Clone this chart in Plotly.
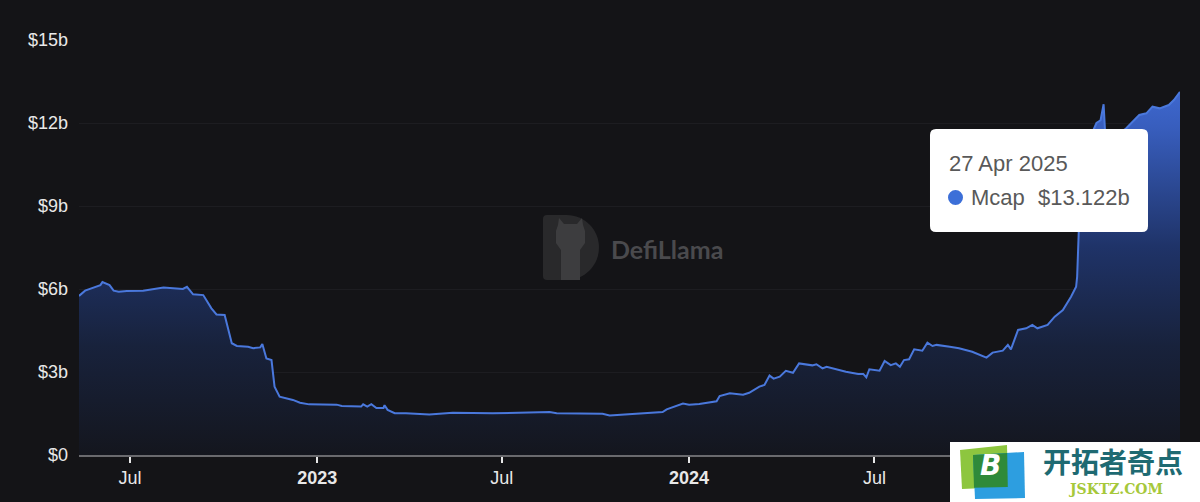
import plotly.graph_objects as go

# ---------------- data ----------------
dates = [
    "2022-05-12", "2022-05-18", "2022-06-02", "2022-06-04", "2022-06-11", "2022-06-15", "2022-06-20", "2022-06-28",
    "2022-07-14", "2022-08-03", "2022-08-22", "2022-08-26", "2022-09-01", "2022-09-11", "2022-09-19", "2022-09-24",
    "2022-10-02", "2022-10-09", "2022-10-14", "2022-10-25", "2022-10-30", "2022-11-06", "2022-11-08", "2022-11-12",
    "2022-11-17", "2022-11-20", "2022-11-25", "2022-12-08", "2022-12-15", "2022-12-24",
    "2023-01-20", "2023-01-25", "2023-02-13", "2023-02-15", "2023-02-19", "2023-02-23", "2023-02-28", "2023-03-07",
    "2023-03-08", "2023-03-11", "2023-03-18", "2023-03-29", "2023-04-21", "2023-05-14", "2023-06-22", "2023-07-12",
    "2023-08-17", "2023-08-24", "2023-10-08", "2023-10-15", "2023-11-07", "2023-12-06", "2023-12-10", "2023-12-26",
    "2024-01-01", "2024-01-11", "2024-01-28", "2024-01-31", "2024-02-10", "2024-02-23", "2024-02-29", "2024-03-10",
    "2024-03-15", "2024-03-20", "2024-03-24", "2024-03-30", "2024-04-05", "2024-04-12", "2024-04-18", "2024-05-01",
    "2024-05-05", "2024-05-11", "2024-05-15", "2024-06-03", "2024-06-15", "2024-06-20", "2024-06-23", "2024-06-26",
    "2024-07-06", "2024-07-11", "2024-07-17", "2024-07-22", "2024-07-26", "2024-07-30", "2024-08-04", "2024-08-09",
    "2024-08-17", "2024-08-22", "2024-08-27", "2024-08-31", "2024-09-13", "2024-09-22", "2024-10-05", "2024-10-19",
    "2024-10-25", "2024-11-04", "2024-11-09", "2024-11-12", "2024-11-19", "2024-11-27", "2024-12-03", "2024-12-08",
    "2024-12-18", "2024-12-25", "2025-01-02", "2025-01-10", "2025-01-15", "2025-01-16", "2025-01-19", "2025-01-22",
    "2025-01-28", "2025-02-01", "2025-02-04", "2025-02-08", "2025-02-11", "2025-02-13", "2025-02-21", "2025-03-05",
    "2025-03-18", "2025-03-25", "2025-03-31", "2025-04-07", "2025-04-16", "2025-04-21", "2025-04-27",
]
mcap_billions = [
    5.75, 5.94, 6.14, 6.25, 6.14, 5.94, 5.90, 5.93,
    5.94, 6.05, 6.00, 6.08, 5.81, 5.78, 5.30, 5.08,
    5.06, 4.04, 3.94, 3.91, 3.86, 3.89, 4.01, 3.49,
    3.43, 2.47, 2.11, 1.99, 1.89, 1.83,
    1.82, 1.77, 1.75, 1.83, 1.75, 1.84, 1.70, 1.70,
    1.80, 1.63, 1.51, 1.51, 1.46, 1.53, 1.51, 1.52,
    1.55, 1.51, 1.49, 1.43, 1.48, 1.55, 1.65, 1.86,
    1.82, 1.84, 1.94, 2.13, 2.23, 2.18, 2.25, 2.47,
    2.53, 2.87, 2.76, 2.83, 3.04, 2.97, 3.31, 3.24,
    3.28, 3.13, 3.19, 3.01, 2.93, 2.93, 2.81, 3.10,
    3.05, 3.40, 3.25, 3.31, 3.19, 3.43, 3.46, 3.82,
    3.77, 4.06, 3.94, 3.98, 3.91, 3.86, 3.73, 3.52,
    3.70, 3.77, 3.98, 3.82, 4.52, 4.58, 4.70, 4.58,
    4.70, 5.00, 5.24, 5.72, 6.08, 6.44, 9.50, 11.20,
    11.60, 11.75, 12.00, 12.10, 12.68, 11.30, 11.50, 11.80,
    12.29, 12.35, 12.59, 12.53, 12.65, 12.83, 13.122,
]

y_tickvals = [0, 3, 6, 9, 12, 15]
y_ticktext = ["$0", "$3b", "$6b", "$9b", "$12b", "$15b"]
# (the 2025 tick sits under the site logo in the reference, so it is not shown)
x_tickvals = ["2022-07-01", "2023-01-01", "2023-07-01", "2024-01-01", "2024-07-01"]
x_ticktext = ["Jul", "<b>2023</b>", "Jul", "<b>2024</b>", "Jul"]

series_name = "Mcap"
tooltip_date = "27 Apr 2025"
tooltip_value = "$13.122b"
watermark_text = "DefiLlama"
logo_cn = "开拓者奇点"
logo_en = "JSKTZ.COM"

# ---------------- layout geometry ----------------
W, H = 1200, 502
ML, MR, MT, MB = 79, 20, 40, 47
PW, PH = W - ML - MR, H - MT - MB

BG = "#141417"
LINE = "#4a78dc"
FONT = "Liberation Sans, Arial, sans-serif"


def px(x):
    return (x - ML) / PW


def py(y):
    return (H - MB - y) / PH


def path_from(cmds):
    """cmds: list of (letter, [(x,y),...]) in pixel coordinates -> paper path."""
    out = []
    for c, pts in cmds:
        s = c
        if pts:
            s += " " + " ".join(f"{px(x):.5f},{py(y):.5f}" for x, y in pts)
        out.append(s)
    return " ".join(out)


def rrect(x0, y0, x1, y1, r):
    return path_from([
        ("M", [(x0 + r, y0)]), ("L", [(x1 - r, y0)]), ("Q", [(x1, y0), (x1, y0 + r)]),
        ("L", [(x1, y1 - r)]), ("Q", [(x1, y1), (x1 - r, y1)]),
        ("L", [(x0 + r, y1)]), ("Q", [(x0, y1), (x0, y1 - r)]),
        ("L", [(x0, y0 + r)]), ("Q", [(x0, y0), (x0 + r, y0)]), ("Z", []),
    ])


def poly(points):
    cmds = [("M", [points[0]])] + [("L", [p]) for p in points[1:]] + [("Z", [])]
    return path_from(cmds)


fig = go.Figure()
fig.add_trace(go.Scatter(
    x=dates, y=mcap_billions, mode="lines", name=series_name,
    line=dict(color=LINE, width=2),
    fill="tozeroy",
    fillgradient=dict(
        type="vertical",
        start=0, stop=13.2,
        colorscale=[
            [0.0, "rgba(20,22,30,1)"],
            [0.3, "rgba(24,34,60,1)"],
            [0.57, "rgba(31,51,104,1)"],
            [0.9, "rgba(56,94,190,1)"],
            [1.0, "rgba(62,104,208,1)"],
        ],
    ),
    hoverinfo="skip",
    showlegend=False,
))

shapes = []
annotations = []

# --- DefiLlama watermark (centre) ---
k = 0.5523
cx, cy, r = 566.5, 247.5, 32.5
shapes.append(dict(
    type="path", xref="paper", yref="paper", layer="below",
    path=path_from([
        ("M", [(547, 215)]), ("L", [(cx, 215)]),
        ("C", [(cx + k * r, 215), (cx + r, cy - k * r), (cx + r, cy)]),
        ("C", [(cx + r, cy + k * r), (cx + k * r, 280), (cx, 280)]),
        ("L", [(547, 280)]), ("Q", [(543, 280), (543, 276)]),
        ("L", [(543, 219)]), ("Q", [(543, 215), (547, 215)]), ("Z", []),
    ]),
    fillcolor="#29292b", line=dict(width=0),
))
shapes.append(dict(
    type="path", xref="paper", yref="paper", layer="below",
    path=poly([(561, 280), (561, 250), (556, 243), (556, 231), (558, 225), (559, 218),
               (564, 224), (577, 224), (582, 218), (583, 225), (585, 231), (585, 243),
               (580, 250), (580, 280)]),
    fillcolor="#3d3d3f", line=dict(width=0),
))
annotations.append(dict(
    x=px(609), y=py(249), xref="paper", yref="paper", xanchor="left", yanchor="middle",
    text=f"<b>{watermark_text}</b>", showarrow=False,
    font=dict(family="Lato, " + FONT, size=25, color="#4a4a4d"),
))

# --- tooltip ---
shapes.append(dict(
    type="path", xref="paper", yref="paper", layer="above",
    path=rrect(930, 129, 1148, 232, 6),
    fillcolor="#ffffff", line=dict(width=0),
))
shapes.append(dict(
    type="circle", xref="paper", yref="paper", layer="above",
    x0=px(948), x1=px(963), y0=py(205), y1=py(190),
    fillcolor="#3c6fd8", line=dict(width=0),
))
annotations += [
    dict(x=px(947), y=py(163), xref="paper", yref="paper", xanchor="left", yanchor="middle",
         text=tooltip_date, showarrow=False, font=dict(family=FONT, size=22, color="#595959")),
    dict(x=px(969), y=py(197), xref="paper", yref="paper", xanchor="left", yanchor="middle",
         text=series_name, showarrow=False, font=dict(family=FONT, size=22, color="#595959")),
    dict(x=px(1036), y=py(197), xref="paper", yref="paper", xanchor="left", yanchor="middle",
         text=tooltip_value, showarrow=False, font=dict(family=FONT, size=22, color="#595959")),
]

# --- bottom-right site logo ---
shapes.append(dict(type="rect", xref="paper", yref="paper", layer="above",
                   x0=px(950), x1=px(1205), y0=py(507), y1=py(442),
                   fillcolor="#ffffff", line=dict(width=0)))
shapes.append(dict(type="path", xref="paper", yref="paper", layer="above",
                   path=poly([(960, 450), (1007, 445), (1008, 487), (962, 489)]),
                   fillcolor="#8dc63f", line=dict(width=0)))
shapes.append(dict(type="path", xref="paper", yref="paper", layer="above",
                   path=poly([(973, 455), (1024, 452), (1025, 498), (975, 499)]),
                   fillcolor="#2d9ee0", line=dict(width=0)))
shapes.append(dict(type="path", xref="paper", yref="paper", layer="above",
                   path=poly([(973, 455), (1007.2, 453), (1007.8, 487), (974, 487.8)]),
                   fillcolor="#2f8a3a", line=dict(width=0)))
annotations += [
    dict(x=px(990), y=py(466), xref="paper", yref="paper", xanchor="center", yanchor="middle",
         text="<b><i>B</i></b>", showarrow=False,
         font=dict(family="DejaVu Sans, " + FONT, size=28, color="#ffffff")),
    dict(x=px(1113), y=py(461), xref="paper", yref="paper", xanchor="center", yanchor="middle",
         text=f"<b>{logo_cn}</b>", showarrow=False,
         font=dict(family="Noto Sans CJK SC", size=28, color="#1e6a72")),
    dict(x=px(1115), y=py(489), xref="paper", yref="paper", xanchor="center", yanchor="middle",
         text=f"<b>{logo_en}</b>", showarrow=False,
         font=dict(family="DejaVu Serif", size=14, color="#a6c83a")),
]

fig.update_layout(
    width=W, height=H,
    margin=dict(l=ML, r=MR, t=MT, b=MB, pad=0),
    paper_bgcolor=BG, plot_bgcolor=BG,
    font=dict(family=FONT, color="#e8e8e8", size=18),
    shapes=shapes, annotations=annotations,
    showlegend=False,
    xaxis=dict(
        type="date", range=[dates[0], dates[-1]],
        tickvals=x_tickvals, ticktext=x_ticktext,
        ticks="outside", ticklen=6, tickwidth=1.5, tickcolor="#e8e8e8",
        showline=True, linecolor="#6a6a6e", linewidth=1.5,
        showgrid=False, zeroline=False,
        tickfont=dict(family=FONT, size=18, color="#e8e8e8"),
        fixedrange=True,
    ),
    yaxis=dict(
        range=[0, 15], tickvals=y_tickvals, ticktext=y_ticktext,
        ticks="", showline=False, zeroline=False,
        showgrid=True, gridcolor="#1d1d21", gridwidth=1,
        tickfont=dict(family=FONT, size=18, color="#e8e8e8"),
        ticklabelstandoff=10,
        fixedrange=True,
    ),
)

fig.write_html(
    "out.html",
    config={"displayModeBar": False},
    post_script="document.body.style.margin='0';document.body.style.background='#141417';"
                "document.body.style.overflow='hidden';",
)
